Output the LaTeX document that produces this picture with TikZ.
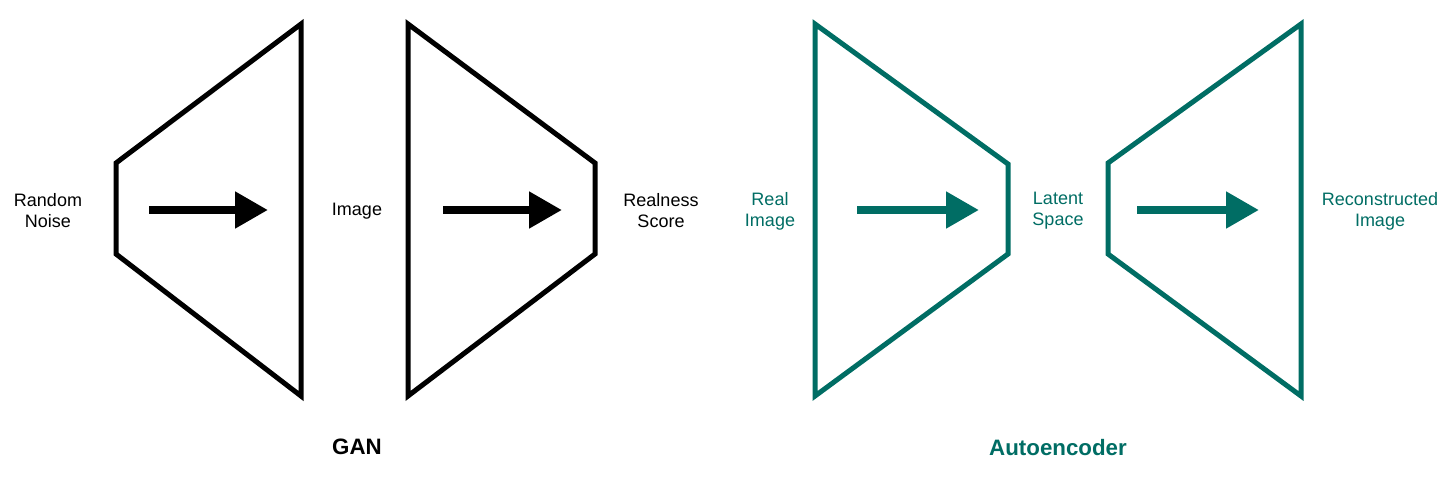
\documentclass[tikz,border=0pt]{standalone}
\usepackage{fontspec}
\setmainfont{Liberation Sans}
\usetikzlibrary{arrows.meta}
\definecolor{teal}{RGB}{0,109,100}
\tikzset{
  block/.style={line width=5pt, line join=miter},
  flow/.style={line width=8pt, -{Triangle[length=33pt,width=35pt]}},
  lbl/.style={font=\fontsize{18}{21}\selectfont, align=center, inner sep=0pt},
  ttl/.style={font=\fontsize{22.3}{25}\selectfont\bfseries, inner sep=0pt}
}
\begin{document}
\begin{tikzpicture}[x=1pt,y=-1pt]
\useasboundingbox (0,0) rectangle (1454,488);
% GAN generator
\draw[block] (116,163) -- (301,24) -- (301,396) -- (116,254) -- cycle;
% GAN discriminator
\draw[block] (408,24) -- (595,163) -- (595,254) -- (408,396) -- cycle;
% Encoder
\draw[block,teal] (815,24) -- (1008,164) -- (1008,254) -- (815,396) -- cycle;
% Decoder
\draw[block,teal] (1108,163) -- (1301,24) -- (1301,396) -- (1108,254) -- cycle;
% arrows
\coordinate (a1s) at (149,210); \coordinate (a1e) at (268,210);
\coordinate (a2s) at (443,210); \coordinate (a2e) at (562,210);
\coordinate (a3s) at (857,210); \coordinate (a3e) at (979,210);
\coordinate (a4s) at (1137,210); \coordinate (a4e) at (1259,210);
\draw[flow] (a1s) -- (a1e);
\draw[flow] (a2s) -- (a2e);
\draw[flow,teal] (a3s) -- (a3e);
\draw[flow,teal] (a4s) -- (a4e);
% labels
\node[lbl] (noise) at (48,211) {Random\\Noise};
\node[lbl] (img) at (357,211) {Image};
\node[lbl] (score) at (661,211) {Realness\\Score};
\node[lbl,text=teal] (real) at (770,211) {Real\\Image};
\node[lbl,text=teal] (latent) at (1058,211) {Latent\\Space};
\node[lbl,text=teal] (recon) at (1380,211) {Reconstructed\\Image};
\node[ttl] (gan) at (357,447) {GAN};
\node[ttl,text=teal] (ae) at (1058,448) {Autoencoder};
\end{tikzpicture}
\end{document}
